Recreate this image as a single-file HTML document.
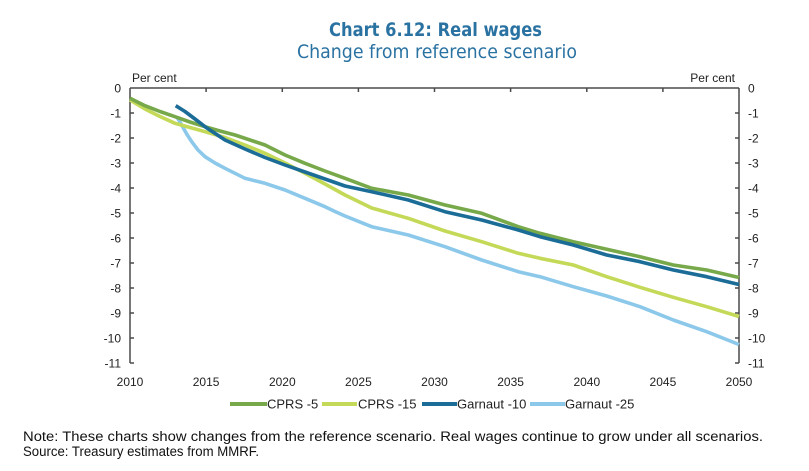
<!DOCTYPE html>
<html>
<head>
<meta charset="utf-8">
<style>
html,body{margin:0;padding:0;background:#fff;}
svg{display:block;}
</style>
</head>
<body>
<svg width="809" height="471" viewBox="0 0 809 471" xmlns="http://www.w3.org/2000/svg">
<rect width="809" height="471" fill="#ffffff"/>
<!-- Titles -->
<text x="329" y="36" font-family="DejaVu Sans, sans-serif" font-weight="bold" font-size="19" fill="#2a72a2" textLength="213" lengthAdjust="spacingAndGlyphs">Chart 6.12: Real wages</text>
<text x="297" y="58" font-family="DejaVu Sans, sans-serif" font-size="19" fill="#2a72a2" textLength="280" lengthAdjust="spacingAndGlyphs">Change from reference scenario</text>

<g font-family="Liberation Sans, Arial, sans-serif" font-size="12" fill="#222">
<text x="132" y="82">Per cent</text>
<text x="735" y="82" text-anchor="end">Per cent</text>
<!-- left tick labels -->
<g text-anchor="end">
<text x="121" y="92.3">0</text>
<text x="121" y="117.3">-1</text>
<text x="121" y="142.3">-2</text>
<text x="121" y="167.3">-3</text>
<text x="121" y="192.3">-4</text>
<text x="121" y="217.3">-5</text>
<text x="121" y="242.3">-6</text>
<text x="121" y="267.3">-7</text>
<text x="121" y="292.3">-8</text>
<text x="121" y="317.3">-9</text>
<text x="121" y="342.3">-10</text>
<text x="121" y="367.3">-11</text>
</g>
<g>
<text x="748" y="92.3">0</text>
<text x="748" y="117.3">-1</text>
<text x="748" y="142.3">-2</text>
<text x="748" y="167.3">-3</text>
<text x="748" y="192.3">-4</text>
<text x="748" y="217.3">-5</text>
<text x="748" y="242.3">-6</text>
<text x="748" y="267.3">-7</text>
<text x="748" y="292.3">-8</text>
<text x="748" y="317.3">-9</text>
<text x="748" y="342.3">-10</text>
<text x="748" y="367.3">-11</text>
</g>
<g text-anchor="middle">
<text x="130" y="386">2010</text>
<text x="206.1" y="386">2015</text>
<text x="282.3" y="386">2020</text>
<text x="358.4" y="386">2025</text>
<text x="434.5" y="386">2030</text>
<text x="510.6" y="386">2035</text>
<text x="586.8" y="386">2040</text>
<text x="662.9" y="386">2045</text>
<text x="739" y="386">2050</text>
</g>
</g>

<!-- axes -->
<g stroke="#4a4a4a" stroke-width="1.5" fill="none">
<line x1="130" y1="88" x2="739" y2="88"/>
<line x1="130" y1="88" x2="130" y2="363"/>
<line x1="739" y1="88" x2="739" y2="363"/>
<!-- top ticks -->
<path d="M206.1 88V92 M282.3 88V92 M358.4 88V92 M434.5 88V92 M510.6 88V92 M586.8 88V92 M662.9 88V92"/>
<!-- left ticks -->
<path d="M130 113H134 M130 138H134 M130 163H134 M130 188H134 M130 213H134 M130 238H134 M130 263H134 M130 288H134 M130 313H134 M130 338H134 M130 363H134"/>
<!-- right ticks -->
<path d="M735 113H739 M735 138H739 M735 163H739 M735 188H739 M735 213H739 M735 238H739 M735 263H739 M735 288H739 M735 313H739 M735 338H739 M735 363H739"/>
</g>

<!-- series -->
<g fill="none" stroke-width="3.6" stroke-linejoin="round" stroke-linecap="butt">
<polyline stroke="#8cc8ea" points="176.7,116.7 181.7,125 186.7,134 191.7,141.7 198,150 205,156.7 215,163 225,168.3 245,178.3 265,183.3 285,190 305,198.3 325,206.7 335,211.5 345,216 371.7,226.7 408.3,235 445,246.7 481.7,260 518.3,271.7 540,276.7 573.3,286.7 606.7,296 640,306.7 673.3,320 706.7,331.7 739,344.5"/>
<polyline stroke="#c3d957" points="130,100 145,109 160,116.5 175,123.3 190,127.5 205,131.7 225,137.5 245,145 265,153.3 285,163 305,173.3 325,184 345,195 371.7,208 408.3,218.3 445,231 481.7,241.7 518.3,253.3 540,258.3 573.3,265 606.7,276.7 640,287.3 673.3,297.3 706.7,306.7 739,316.5"/>
<polyline stroke="#77a94a" points="130,98.3 145,105.7 160,111.5 175,116.7 190,122 205,126.7 220,131 235,135 250,140 265,145 285,155 305,163.3 325,171 345,178.3 371.7,188.3 408.3,195 445,205 481.7,213.3 518.3,226.7 540,233.3 573.3,241.7 606.7,249.3 640,256.7 673.3,265 706.7,270 739,277.5"/>
<polyline stroke="#1b6c97" points="175.7,105.7 185,111.5 195,119 205,126.7 225,140 245,149 265,157.5 285,165 305,172 325,179 345,186 371.7,191.7 408.3,200 445,211.7 481.7,220 518.3,230 540,236.7 573.3,245 606.7,255 640,261.7 673.3,270 706.7,276.7 739,284.5"/>
</g>

<!-- legend -->
<g stroke-width="4">
<line x1="230" y1="404" x2="267" y2="404" stroke="#77a94a"/>
<line x1="322" y1="404" x2="357" y2="404" stroke="#c3d957"/>
<line x1="422" y1="404" x2="457" y2="404" stroke="#1b6c97"/>
<line x1="530" y1="404" x2="565" y2="404" stroke="#8cc8ea"/>
</g>
<g font-family="Liberation Sans, Arial, sans-serif" font-size="13" fill="#222">
<text x="267" y="408.7">CPRS -5</text>
<text x="358" y="408.7">CPRS -15</text>
<text x="457" y="408.7">Garnaut -10</text>
<text x="565" y="408.7">Garnaut -25</text>
</g>

<!-- notes -->
<g font-family="Liberation Sans, Arial, sans-serif" font-size="13.5" fill="#111">
<text x="23" y="441" textLength="740" lengthAdjust="spacingAndGlyphs">Note: These charts show changes from the reference scenario. Real wages continue to grow under all scenarios.</text>
<text x="23" y="456" textLength="236" lengthAdjust="spacingAndGlyphs">Source: Treasury estimates from MMRF.</text>
</g>
</svg>
</body>
</html>
